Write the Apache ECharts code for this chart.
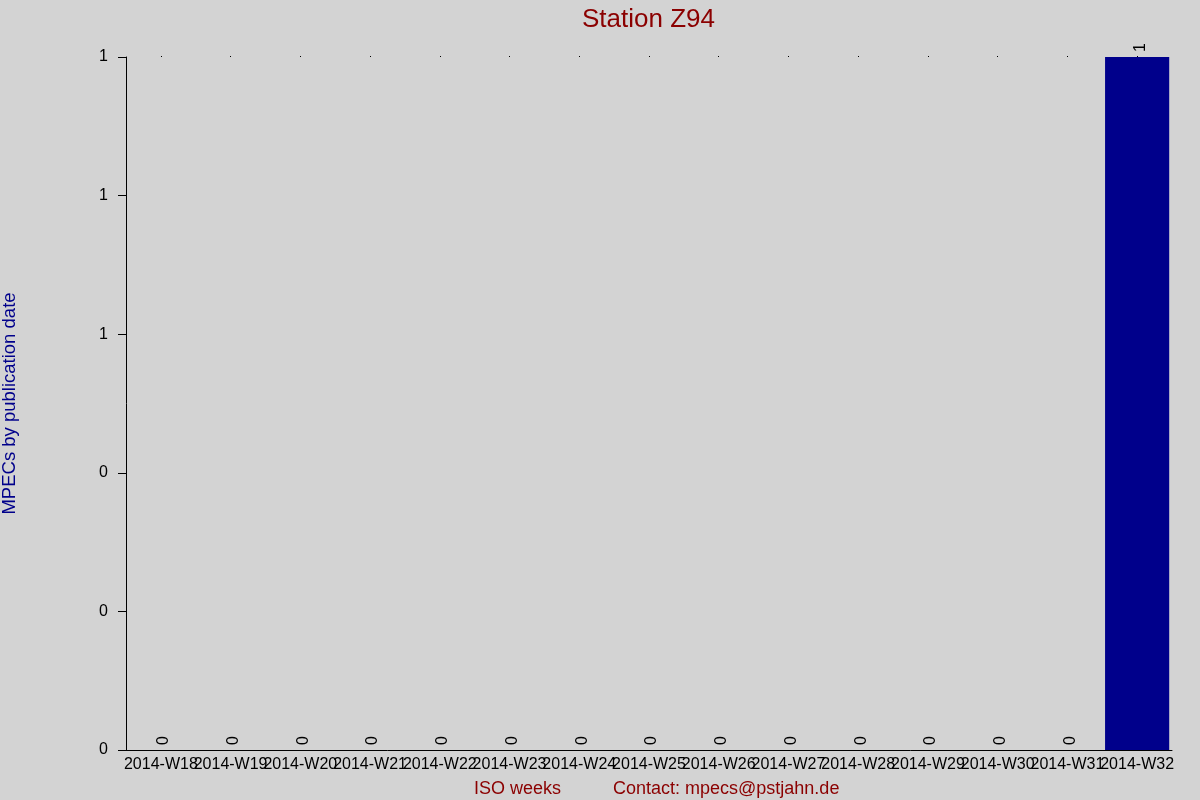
<!DOCTYPE html>
<html><head><meta charset="utf-8">
<script src="https://cdn.jsdelivr.net/npm/echarts@6/dist/echarts.min.js"></script>
<style>html,body{margin:0;padding:0;background:#d3d3d3}#c{width:1200px;height:800px}</style>
</head><body><div id="c"></div>
<script>
const categories = ["2014-W18","2014-W19","2014-W20","2014-W21","2014-W22","2014-W23","2014-W24","2014-W25","2014-W26","2014-W27","2014-W28","2014-W29","2014-W30","2014-W31","2014-W32"];
const mpecs = [0,0,0,0,0,0,0,0,0,0,0,0,0,0,1];
const titleText = "Station Z94";
const xName = "ISO weeks";
const contactText = "Contact: mpecs@pstjahn.de";
const yName = "MPECs by publication date";

const font = "Arial, 'Liberation Sans', sans-serif";
const chart = echarts.init(document.getElementById('c'));
chart.setOption({
  backgroundColor: '#d3d3d3',
  animation: false,
  title: [
    {text: titleText, left: 577, top: 2, textStyle: {color: '#8b0000', fontSize: 26, fontWeight: 'normal', fontFamily: font}},
    {text: xName, left: 469, top: 775, textStyle: {color: '#8b0000', fontSize: 18, fontWeight: 'normal', fontFamily: font}},
    {text: contactText, left: 608, top: 775, textStyle: {color: '#8b0000', fontSize: 18, fontWeight: 'normal', fontFamily: font}}
  ],
  grid: {left: 126, right: 28, top: 57, bottom: 50, containLabel: false, outerBoundsMode: 'none'},
  xAxis: [
    {type: 'category', data: categories, position: 'bottom',
     axisLine: {show: true, lineStyle: {color: '#000', width: 1}},
     axisTick: {show: false},
     axisLabel: {color: '#000', fontSize: 16, fontFamily: font, interval: 0, margin: 7}},
    {type: 'category', data: categories, position: 'top',
     axisLine: {show: false},
     axisTick: {show: true, length: 1, interval: 0, alignWithLabel: true, lineStyle: {color: '#000'}},
     axisLabel: {show: false, interval: 0}}
  ],
  yAxis: {type: 'value', min: 0, max: 1, interval: 0.2,
    name: yName, nameLocation: 'middle', nameGap: 107,
    nameTextStyle: {color: '#00008b', fontSize: 18.5, fontFamily: font},
    axisLine: {show: true, lineStyle: {color: '#000', width: 1}},
    axisTick: {show: true, length: 8, lineStyle: {color: '#000'}},
    axisLabel: {color: '#000', fontSize: 16, fontFamily: font, margin: 18, formatter: v => String(Math.round(v))},
    splitLine: {show: false}},
  series: [{
    type: 'bar', data: mpecs, xAxisIndex: 0, barCategoryGap: '8%',
    itemStyle: {color: '#00008b'},
    label: {show: true, position: 'top', rotate: 90, align: 'left', verticalAlign: 'middle', distance: 5,
      offset: [0, 3], color: '#000', fontSize: 16, fontFamily: font}
  }]
});
</script></body></html>
